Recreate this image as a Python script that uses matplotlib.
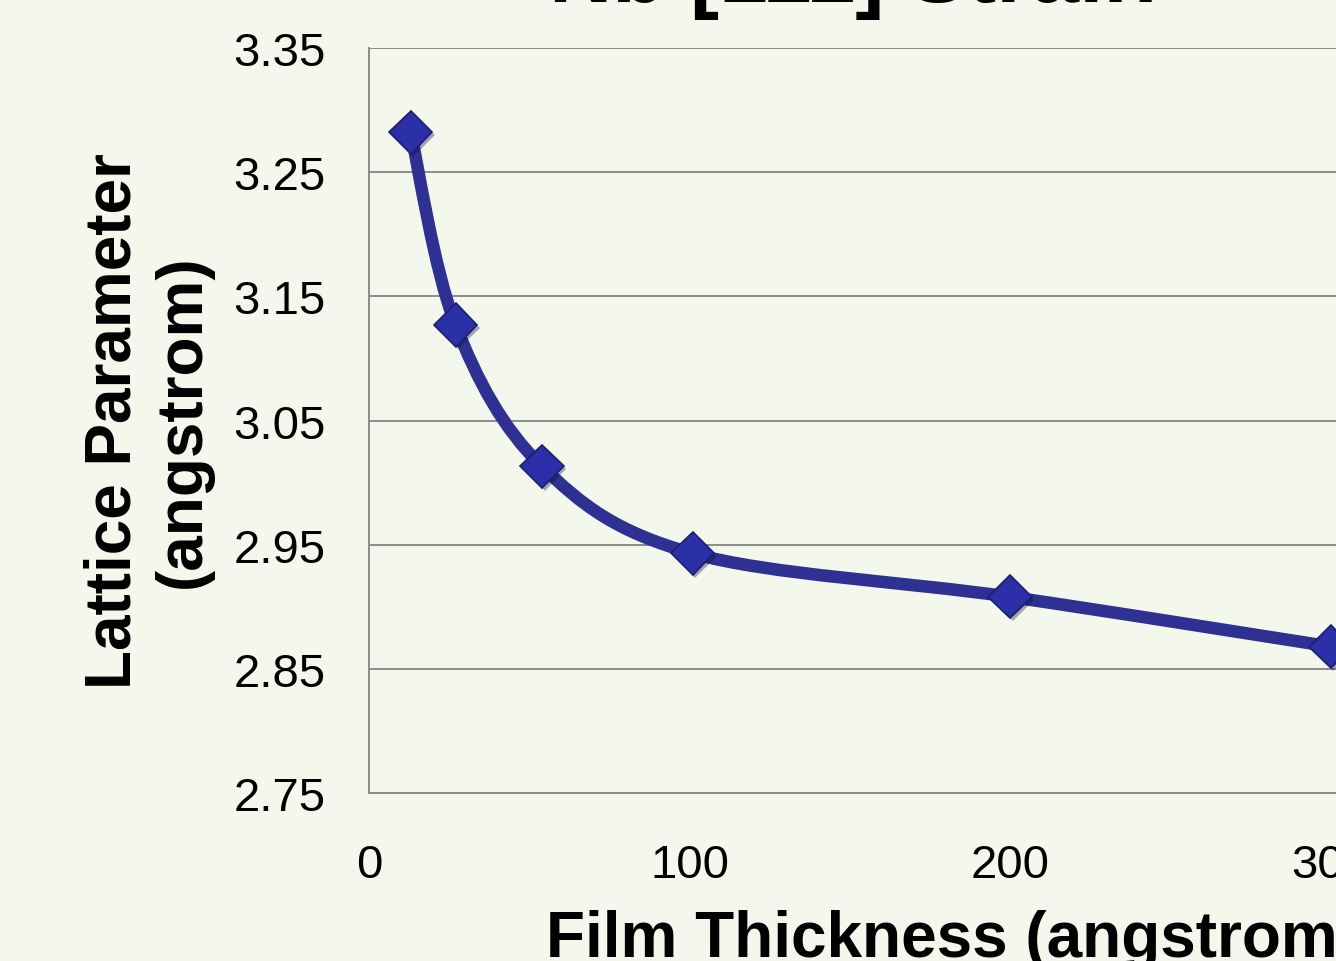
#!/usr/bin/env python3

# Lattice parameter vs film thickness, smoothed line with diamond markers

import matplotlib.pyplot as plt
import matplotlib.patheffects as pe
import numpy as np
from matplotlib.path import Path
from matplotlib.patches import PathPatch

# Data
thickness = [13, 27, 54, 101, 200, 300]          # angstrom
lattice = [3.282, 3.127, 3.013, 2.943, 2.908, 2.868]  # angstrom
y_ticks = [2.75, 2.85, 2.95, 3.05, 3.15, 3.25, 3.35]
x_ticks = [0, 100, 200, 300, 400]

BG = '#f4f7ec'
LINE = '#2e3092'
MARKER = '#2b2fa8'
GRID = '#8c8c8c'


def smooth_path(xs, ys):
    # Catmull-Rom style Bezier segments through every point
    pts = np.column_stack([xs, ys]).astype(float)
    n = len(pts)
    verts = [pts[0]]
    codes = [Path.MOVETO]
    for i in range(n - 1):
        p0 = pts[i - 1] if i > 0 else pts[i]
        p1 = pts[i]
        p2 = pts[i + 1]
        p3 = pts[i + 2] if i + 2 < n else pts[i + 1]
        c1 = p1 + (p2 - p0) / 6
        c2 = p2 - (p3 - p1) / 6
        verts += [c1, c2, p2]
        codes += [Path.CURVE4] * 3
    return Path(verts, codes)


def plot_results():
    plt.rcParams['font.family'] = ['Liberation Sans', 'DejaVu Sans']
    fig = plt.figure(figsize=(13.36, 9.62), dpi=100, facecolor=BG)
    ax = fig.add_axes([0.2762, 0.1746, 0.9596, 0.7744], facecolor=BG)

    ax.set_xlim(0, 400)
    ax.set_ylim(2.75, 3.35)
    ax.set_yticks(y_ticks)
    ax.set_yticklabels([f'{v:.2f}' for v in y_ticks])
    ax.set_xticks(x_ticks)
    ax.tick_params(length=0, labelsize=34, colors='black')
    ax.tick_params(axis='y', pad=31)
    ax.tick_params(axis='x', pad=36)

    ax.yaxis.grid(True, color=GRID, linewidth=1.4)
    ax.set_axisbelow(True)
    for side in ('top', 'right'):
        ax.spines[side].set_visible(False)
    for side in ('left', 'bottom'):
        ax.spines[side].set_color(GRID)
        ax.spines[side].set_linewidth(1.4)

    curve = PathPatch(smooth_path(thickness, lattice), facecolor='none',
                      edgecolor=LINE, linewidth=9, capstyle='round',
                      joinstyle='round', zorder=3)
    ax.add_patch(curve)
    ax.plot(thickness, lattice, linestyle='none', marker='D', markersize=22,
            markerfacecolor=MARKER, markeredgecolor='#1c1f6e',
            markeredgewidth=1.2, zorder=4, clip_on=False,
            path_effects=[pe.SimplePatchShadow(offset=(2, -2), alpha=0.35),
                          pe.Normal()])

    ax.set_xlabel('Film Thickness (angstrom)', fontsize=46, fontweight='bold',
                  va='baseline')
    ax.xaxis.set_label_coords(0.455, -0.2188)
    ax.set_ylabel('Lattice Parameter\n(angstrom)', fontsize=46,
                  fontweight='bold', linespacing=1.2)
    ax.yaxis.set_label_coords(-0.122, 0.5)

    fig.text(549 / 1336, 1 - 2 / 962, 'Nb [111] Strain', fontsize=63,
             fontweight='bold', ha='left', va='baseline')

    fig.savefig('out.png', dpi=100, facecolor=BG)


if __name__ == '__main__':
    plot_results()
